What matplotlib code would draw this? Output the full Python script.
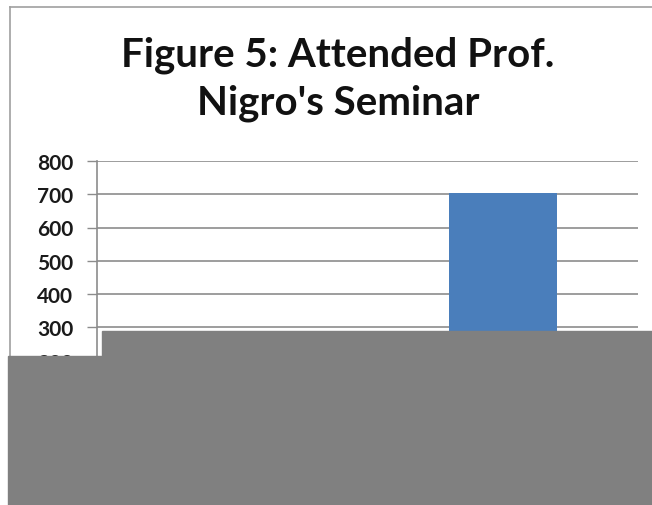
import matplotlib
matplotlib.use("Agg")
import matplotlib.pyplot as plt
from matplotlib.patches import Rectangle
from matplotlib.lines import Line2D

# seminar attendance counts
categories = ["No", "Yes"]
counts = [250, 705]
y_ticks = [0, 100, 200, 300, 400, 500, 600, 700, 800]
title_lines = ["Figure 5: Attended Prof.", "Nigro's Seminar"]

W, H = 652, 506
fig = plt.figure(figsize=(W / 100, H / 100), dpi=100)
fig.patch.set_facecolor("white")
font = ["Lato", "DejaVu Sans"]

ax = fig.add_axes([97 / W, 1 - 428 / H, 541 / W, 266 / H])
ax.bar(range(len(categories)), counts, width=0.4, color="#4a7ebb", zorder=3)
ax.set_xlim(-0.5, len(categories) - 0.5)
ax.set_ylim(0, 800)
ax.set_yticks(y_ticks)
ax.set_yticklabels([str(t) for t in y_ticks], fontsize=15, fontweight="bold",
                   family=font, color="#1a1a1a")
ax.set_xticks(range(len(categories)))
ax.set_xticklabels(categories, fontsize=14, family=font)
ax.yaxis.grid(True, color="#8c8c8c", linewidth=1.2, zorder=0)
ax.tick_params(axis="y", length=7.2, width=1, color="#8c8c8c", pad=10)
ax.tick_params(axis="x", length=0)
for side in ["top", "right", "bottom"]:
    ax.spines[side].set_visible(False)
ax.spines["left"].set_color("#8c8c8c")
ax.spines["left"].set_linewidth(1.2)

# two-line title, baselines placed separately
for line, base in zip(title_lines, [66, 115]):
    fig.text(338 / W, 1 - base / H, line, ha="center", va="baseline",
             fontsize=29, fontweight="bold", family=font, color="#111111")

# chart frame (left and top edges)
fig.add_artist(Line2D([10 / W, 10 / W], [0, 1 - 8 / H], color="#a0a0a0", lw=1.2))
fig.add_artist(Line2D([10 / W, 1], [1 - 8 / H, 1 - 8 / H], color="#a0a0a0", lw=1.2))

# gray block over the lower part
fig.add_artist(Rectangle((102 / W, 0), 1 - 102 / W, (H - 332) / H,
                         transform=fig.transFigure, color="#808080", zorder=10))
fig.add_artist(Rectangle((8 / W, 0), 1 - 8 / W, (H - 357) / H,
                         transform=fig.transFigure, color="#808080", zorder=10))

fig.savefig("out.png", dpi=100)
